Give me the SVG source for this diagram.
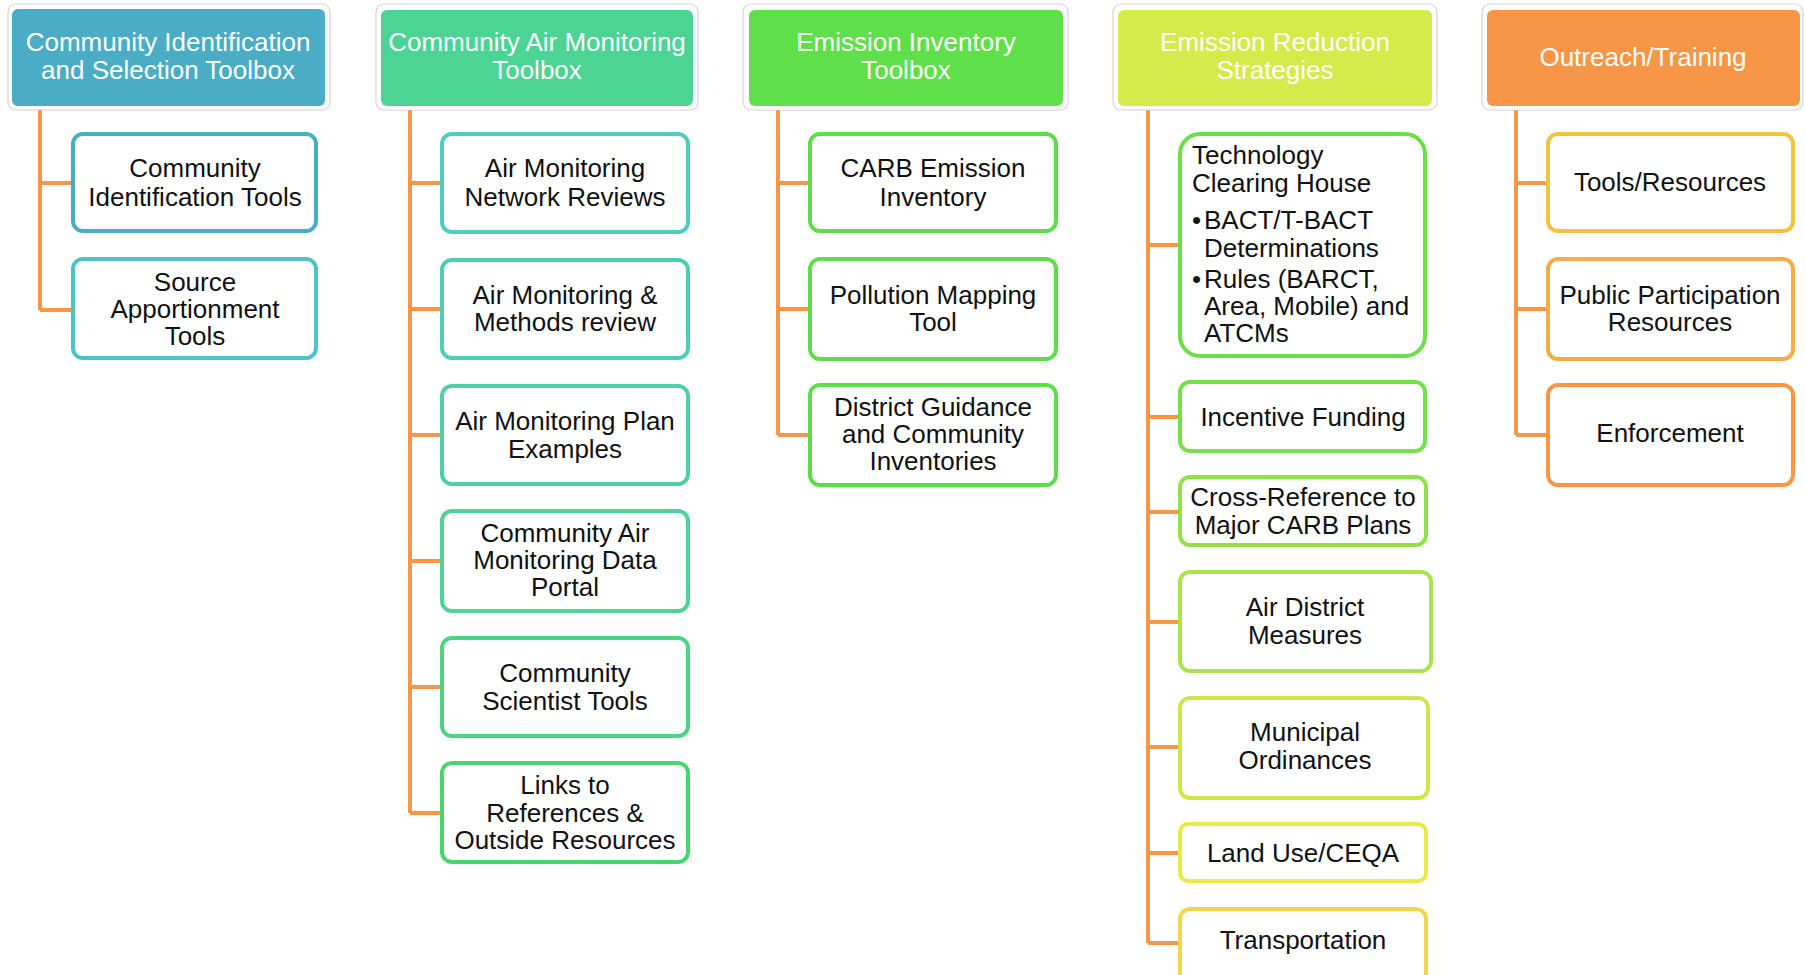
<svg xmlns="http://www.w3.org/2000/svg" width="1805" height="975" viewBox="0 0 1805 975">
<style>
.bg{fill:#fff}
.hout{fill:#fff;stroke:#d4d4d4;stroke-width:1.2}
.ht{font-family:"Liberation Sans",Arial,sans-serif;font-size:26px;fill:#fff;text-anchor:middle}
.box{fill:#fff;stroke-width:4}
.t{font-family:"Liberation Sans",Arial,sans-serif;font-size:26px;fill:#111;text-anchor:middle}
.tl{font-family:"Liberation Sans",Arial,sans-serif;font-size:26px;fill:#111}
.c{stroke:#F79646;stroke-width:4;fill:none}
</style>
<rect class="bg" x="0" y="0" width="1805" height="975"/>
<g id="connectors">
<path class="c" d="M40 108V310M40 183H71M40 310H71"/>
<path class="c" d="M410 108V813M410 183H440M410 309H440M410 435H440M410 561H440M410 687H440M410 813H440"/>
<path class="c" d="M778 108V435M778 183H808M778 309H808M778 435H808"/>
<path class="c" d="M1148 108V943M1148 245H1178M1148 417H1178M1148 512H1178M1148 622H1178M1148 747H1178M1148 853H1178M1148 943H1178"/>
<path class="c" d="M1516 108V435M1516 183H1546M1516 309H1546M1516 435H1546"/>
</g>
<g id="h1">
<rect class="hout" x="8" y="4" width="322" height="106" rx="8"/>
<rect x="12" y="9" width="313" height="97" rx="6" fill="#4BACC6"/>
<text class="ht" x="168" y="51">Community  Identification</text>
<text class="ht" x="168" y="79">and Selection Toolbox</text>
</g>
<g id="h2">
<rect class="hout" x="376" y="4" width="322" height="106" rx="8"/>
<rect x="381" y="10" width="312" height="96" rx="6" fill="#4CD494"/>
<text class="ht" x="537" y="51">Community  Air Monitoring</text>
<text class="ht" x="537" y="79">Toolbox</text>
</g>
<g id="h3">
<rect class="hout" x="743" y="4" width="325" height="106" rx="8"/>
<rect x="749" y="10" width="314" height="96" rx="6" fill="#5FE04A"/>
<text class="ht" x="906" y="51">Emission  Inventory</text>
<text class="ht" x="906" y="79">Toolbox</text>
</g>
<g id="h4">
<rect class="hout" x="1113" y="4" width="324" height="106" rx="8"/>
<rect x="1118" y="10" width="314" height="96" rx="6" fill="#D5EB4A"/>
<text class="ht" x="1275" y="51">Emission  Reduction</text>
<text class="ht" x="1275" y="79">Strategies</text>
</g>
<g id="h5">
<rect class="hout" x="1482" y="4" width="321" height="106" rx="8"/>
<rect x="1487" y="10" width="313" height="96" rx="6" fill="#F79646"/>
<text class="ht" x="1643" y="66">Outreach/Training</text>
</g>
<g id="n1a">
<rect class="box" x="73" y="134" width="243" height="97" rx="10" stroke="#4BACC6"/>
<text class="t" x="195" y="177">Community</text>
<text class="t" x="195" y="206">Identification Tools</text>
</g>
<g id="n1b">
<rect class="box" x="73" y="259" width="243" height="99" rx="10" stroke="#4BC3C8"/>
<text class="t" x="195" y="291">Source</text>
<text class="t" x="195" y="318">Apportionment</text>
<text class="t" x="195" y="345">Tools</text>
</g>
<g id="n2a">
<rect class="box" x="442" y="134" width="246" height="98" rx="10" stroke="#4ECCC0"/>
<text class="t" x="565" y="177">Air Monitoring</text>
<text class="t" x="565" y="206">Network Reviews</text>
</g>
<g id="n2b">
<rect class="box" x="442" y="260" width="246" height="98" rx="10" stroke="#4DCEB4"/>
<text class="t" x="565" y="304">Air Monitoring &amp;</text>
<text class="t" x="565" y="331">Methods review</text>
</g>
<g id="n2c">
<rect class="box" x="442" y="386" width="246" height="98" rx="10" stroke="#4DD0A6"/>
<text class="t" x="565" y="430">Air Monitoring Plan</text>
<text class="t" x="565" y="458">Examples</text>
</g>
<g id="n2d">
<rect class="box" x="442" y="511" width="246" height="100" rx="10" stroke="#4DD396"/>
<text class="t" x="565" y="542">Community  Air</text>
<text class="t" x="565" y="569">Monitoring Data</text>
<text class="t" x="565" y="596">Portal</text>
</g>
<g id="n2e">
<rect class="box" x="442" y="638" width="246" height="98" rx="10" stroke="#4CD482"/>
<text class="t" x="565" y="682">Community</text>
<text class="t" x="565" y="710">Scientist Tools</text>
</g>
<g id="n2f">
<rect class="box" x="442" y="763" width="246" height="99" rx="10" stroke="#47D66C"/>
<text class="t" x="565" y="794">Links to</text>
<text class="t" x="565" y="822">References &amp;</text>
<text class="t" x="565" y="849">Outside Resources</text>
</g>
<g id="n3a">
<rect class="box" x="810" y="134" width="246" height="97" rx="10" stroke="#5EDC4C"/>
<text class="t" x="933" y="177">CARB Emission</text>
<text class="t" x="933" y="206">Inventory</text>
</g>
<g id="n3b">
<rect class="box" x="810" y="259" width="246" height="100" rx="10" stroke="#5EDC4C"/>
<text class="t" x="933" y="304">Pollution  Mapping</text>
<text class="t" x="933" y="331">Tool</text>
</g>
<g id="n3c">
<rect class="box" x="810" y="385" width="246" height="100" rx="10" stroke="#5EDC4C"/>
<text class="t" x="933" y="416">District Guidance</text>
<text class="t" x="933" y="443">and Community</text>
<text class="t" x="933" y="470">Inventories</text>
</g>
<g id="n4a">
<rect class="box" x="1180" y="134" width="245" height="222" rx="20" stroke="#6CDE4A"/>
<text class="tl" x="1192" y="164">Technology</text>
<text class="tl" x="1192" y="192">Clearing House</text>
<text class="tl" x="1192" y="229">•</text>
<text class="tl" x="1204" y="229">BACT/T-BACT</text>
<text class="tl" x="1204" y="257">Determinations</text>
<text class="tl" x="1192" y="288">•</text>
<text class="tl" x="1204" y="288">Rules  (BARCT,</text>
<text class="tl" x="1204" y="315">Area, Mobile) and</text>
<text class="tl" x="1204" y="342">ATCMs</text>
</g>
<g id="n4b">
<rect class="box" x="1180" y="382" width="245" height="69" rx="10" stroke="#74E04A"/>
<text class="t" x="1303" y="426">Incentive  Funding</text>
</g>
<g id="n4c">
<rect class="box" x="1180" y="477" width="246" height="68" rx="10" stroke="#90E14A"/>
<text class="t" x="1303" y="506">Cross-Reference to</text>
<text class="t" x="1303" y="534">Major CARB Plans</text>
</g>
<g id="n4d">
<rect class="box" x="1180" y="572" width="251" height="99" rx="10" stroke="#A8E44A"/>
<text class="t" x="1305" y="616">Air District</text>
<text class="t" x="1305" y="644">Measures</text>
</g>
<g id="n4e">
<rect class="box" x="1180" y="698" width="248" height="100" rx="10" stroke="#CBE84A"/>
<text class="t" x="1305" y="741">Municipal</text>
<text class="t" x="1305" y="769">Ordinances</text>
</g>
<g id="n4f">
<rect class="box" x="1180" y="824" width="246" height="57" rx="8" stroke="#E8EA48"/>
<text class="t" x="1303" y="862">Land  Use/CEQA</text>
</g>
<g id="n4g">
<rect class="box" x="1180" y="909" width="246" height="80" rx="10" stroke="#F0D648"/>
<text class="t" x="1303" y="949">Transportation</text>
</g>
<g id="n5a">
<rect class="box" x="1548" y="134" width="245" height="97" rx="10" stroke="#F2C240"/>
<text class="t" x="1670" y="191">Tools/Resources</text>
</g>
<g id="n5b">
<rect class="box" x="1548" y="259" width="245" height="100" rx="10" stroke="#F5AC45"/>
<text class="t" x="1670" y="304">Public  Participation</text>
<text class="t" x="1670" y="331">Resources</text>
</g>
<g id="n5c">
<rect class="box" x="1548" y="385" width="245" height="100" rx="10" stroke="#F79646"/>
<text class="t" x="1670" y="442">Enforcement</text>
</g>
</svg>
